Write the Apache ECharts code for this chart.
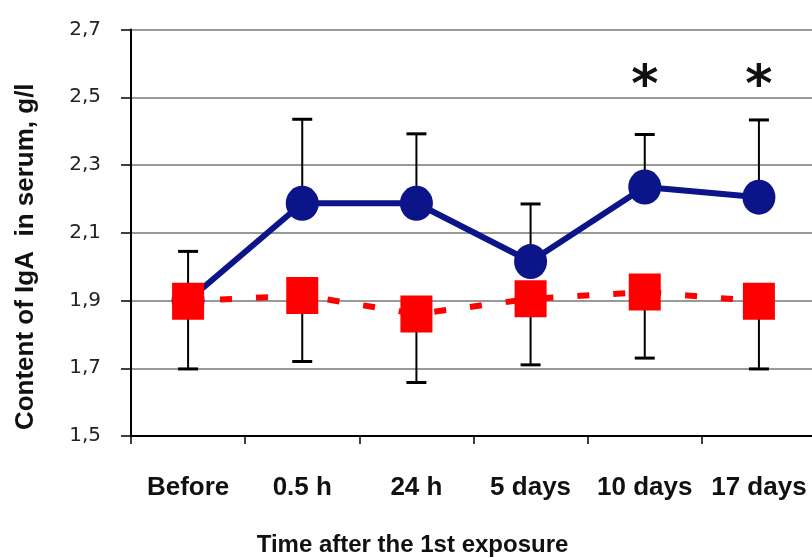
<!DOCTYPE html>
<html>
<head>
<meta charset="utf-8">
<script src="https://cdn.jsdelivr.net/npm/echarts@6/dist/echarts.min.js"></script>
<style>
html,body{margin:0;padding:0;background:#fff;}
#chart{width:812px;height:557px;}
</style>
</head>
<body>
<div id="chart"></div>
<script>
// ---- data ----
const categories = ['Before', '0.5 h', '24 h', '5 days', '10 days', '17 days'];
const blueMean  = [1.90, 2.187, 2.187, 2.015, 2.235, 2.205];
const blueUpper = [2.045, 2.435, 2.392, 2.185, 2.390, 2.433];
const redMean   = [1.898, 1.915, 1.860, 1.905, 1.925, 1.898];
const redLower  = [1.698, 1.720, 1.658, 1.710, 1.730, 1.698];
const significant = [false, false, false, false, true, true];
const starLevel = 2.53;
const yMin = 1.5, yMax = 2.7, yStep = 0.2;

const chart = echarts.init(document.getElementById('chart'), null, {renderer: 'canvas'});

function errorBarSeries(means, bounds) {
  return {
    type: 'custom',
    z: 1,
    silent: true,
    data: categories.map((c, i) => [i, means[i], bounds[i]]),
    encode: {x: 0, y: [1, 2]},
    renderItem: function (params, api) {
      const x = api.value(0);
      const p0 = api.coord([x, api.value(1)]);
      const p1 = api.coord([x, api.value(2)]);
      const hw = 10;
      return {
        type: 'group',
        children: [
          {type: 'line', shape: {x1: p0[0], y1: p0[1], x2: p1[0], y2: p1[1]},
           style: {stroke: '#000', lineWidth: 2}},
          {type: 'line', shape: {x1: p1[0] - hw, y1: p1[1], x2: p1[0] + hw, y2: p1[1]},
           style: {stroke: '#000', lineWidth: 3}}
        ]
      };
    }
  };
}

const option = {
  animation: false,
  backgroundColor: '#fff',
  grid: {left: 131, right: -4, top: 29.5, bottom: 121, containLabel: false, outerBoundsMode: 'none'},
  xAxis: {
    type: 'category',
    data: categories,
    boundaryGap: true,
    name: 'Time after the 1st exposure',
    nameLocation: 'middle',
    nameGap: 97,
    nameTextStyle: {fontFamily: 'Liberation Sans', fontWeight: 'bold', fontSize: 24, color: '#111',
                    padding: [0, 122, 0, 0]},
    axisLine: {lineStyle: {color: '#000', width: 2}},
    axisTick: {show: true, alignWithLabel: false, length: 8, lineStyle: {color: '#000', width: 1.5}},
    axisLabel: {margin: 39, fontFamily: 'Liberation Sans', fontWeight: 'bold', fontSize: 26, color: '#111', interval: 0},
    splitLine: {show: false}
  },
  yAxis: {
    type: 'value',
    min: yMin, max: yMax, interval: yStep,
    name: 'Content of IgA  in serum, g/l',
    nameLocation: 'middle',
    nameGap: 92,
    nameRotate: 90,
    nameTextStyle: {fontFamily: 'Liberation Sans', fontWeight: 'bold', fontSize: 26, color: '#111',
                    padding: [0, 48, 0, 0]},
    axisLine: {show: true, lineStyle: {color: '#000', width: 2}},
    axisTick: {show: true, length: 10, inside: false, lineStyle: {color: '#000', width: 1.5}},
    axisLabel: {
      margin: 30, fontFamily: 'DejaVu Sans', fontSize: 20, color: '#222',
      formatter: v => v.toFixed(1).replace('.', ',')
    },
    splitLine: {show: true, lineStyle: {color: '#777', width: 1.5}}
  },
  series: [
    errorBarSeries(blueMean, blueUpper),
    errorBarSeries(redMean, redLower),
    {
      type: 'line',
      z: 2,
      data: blueMean,
      symbol: 'circle',
      symbolSize: [33, 35],
      lineStyle: {color: '#0b1488', width: 6},
      itemStyle: {color: '#0b1488'},
      silent: true
    },
    {
      type: 'line',
      z: 3,
      data: redMean,
      symbol: 'rect',
      symbolSize: [32, 37],
      lineStyle: {color: '#ff0000', width: 6, type: [12, 24], dashOffset: 4, cap: 'butt'},
      itemStyle: {color: '#ff0000'},
      silent: true
    },
    {
      type: 'custom',
      z: 4,
      silent: true,
      data: categories.map((c, i) => [i, starLevel]),
      encode: {x: 0, y: 1},
      renderItem: function (params, api) {
        if (!significant[params.dataIndex]) return null;
        const p = api.coord([api.value(0), api.value(1)]);
        return {
          type: 'text',
          x: p[0], y: p[1],
          style: {text: '*', font: 'bold 52px "DejaVu Sans"', fill: '#111',
                  textAlign: 'center', textVerticalAlign: 'middle'}
        };
      }
    }
  ]
};
chart.setOption(option);
</script>
</body>
</html>
